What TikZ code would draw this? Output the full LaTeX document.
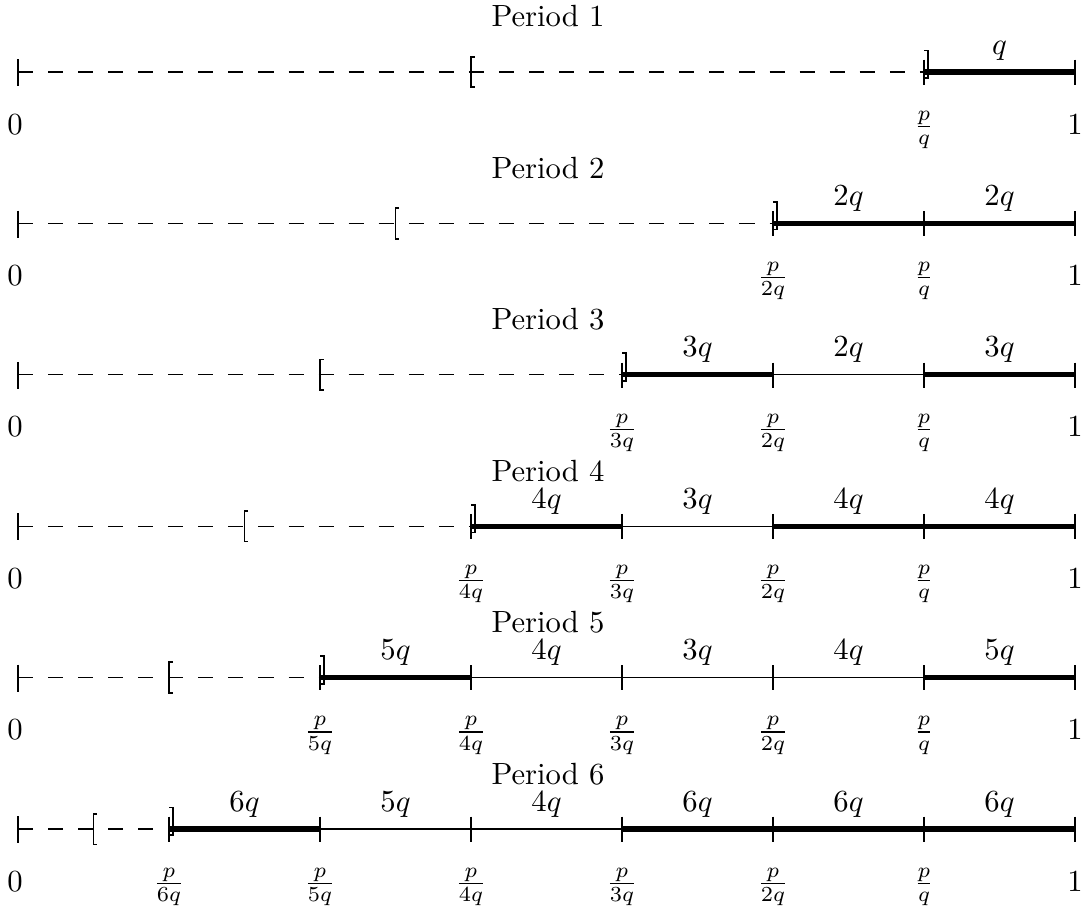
\documentclass[tikz,border=0pt]{standalone}
\usetikzlibrary{calc}
\begin{document}
\begin{tikzpicture}[x=0.326pt,y=-0.326pt,
  tickmark/.style={line width=0.45pt},
  dashline/.style={line width=0.45pt,dash pattern=on 4.9pt off 4.9pt},
  thinseg/.style={line width=0.4pt},
  thickseg/.style={line width=1.7pt},
  brk/.style={line width=0.55pt},
  seglabel/.style={anchor=base,inner sep=0pt},
  axlabel/.style={anchor=base,inner sep=0pt},
  title/.style={anchor=base,inner sep=0pt}]
\useasboundingbox (0,0) rectangle (1089,911);
% row data: n / thick flags for segments (from k=7-n to 7) / labels
\foreach \n/\thk/\labs in {
  1/{1}/{q},
  2/{1,1}/{2q,2q},
  3/{1,0,1}/{3q,2q,3q},
  4/{1,0,1,1}/{4q,3q,4q,4q},
  5/{1,0,0,0,1}/{5q,4q,3q,4q,5q},
  6/{1,0,0,1,1,1}/{6q,5q,4q,6q,6q,6q}}{
  \pgfmathsetmacro{\yy}{72+151.4*(\n-1)}
  \pgfmathtruncatemacro{\ks}{7-\n}
  % named points
  \foreach \k in {0,...,7}{
    \coordinate (r\n p\k) at ({18+151*\k},\yy);
  }
  \coordinate (r\n mid) at ({18+151*\ks/2},\yy);
  \node[title] (title\n) at (548,\yy-45) {Period \n};
  % dashed part
  \draw[dashline] (r\n p0) -- (r\n p\ks);
  % start tick
  \draw[tickmark] ([yshift=4.2pt]r\n p0) -- ([yshift=-4.6pt]r\n p0);
  % [ at mid
  \draw[brk] ([xshift=1.2pt,yshift=5pt]r\n mid) -- ([yshift=5pt]r\n mid) -- ([yshift=-5pt]r\n mid) -- ([xshift=1.2pt,yshift=-5pt]r\n mid);
  % ] at p/(nq)
  \draw[brk] ([xshift=0.1pt,yshift=7pt]r\n p\ks) -- ([xshift=1.2pt,yshift=7pt]r\n p\ks) -- ([xshift=1.2pt,yshift=-2pt]r\n p\ks) -- ([xshift=0.1pt,yshift=-2pt]r\n p\ks);
  % segments
  \foreach \t [count=\i from 0] in \thk {
    \pgfmathtruncatemacro{\a}{\ks+\i}
    \pgfmathtruncatemacro{\b}{\ks+\i+1}
    \ifnum\t=1
      \draw[thickseg] (r\n p\a) -- (r\n p\b);
    \else
      \draw[thinseg] (r\n p\a) -- (r\n p\b);
    \fi
  }
  \foreach \l [count=\i from 0] in \labs {
    \pgfmathtruncatemacro{\a}{\ks+\i}
    \pgfmathtruncatemacro{\b}{\ks+\i+1}
    \node[seglabel] (r\n l\i) at ($(r\n p\a)!0.5!(r\n p\b)+(0,-18)$) {$\l$};
  }
  % ticks at points
  \foreach \k in {\ks,...,7}{
    \draw[tickmark] ([yshift=4pt]r\n p\k) -- ([yshift=-4.2pt]r\n p\k);
  }
  % bottom labels
  \node[axlabel] (r\n zero) at ($(r\n p0)+(-3,62)$) {$0$};
  \node[axlabel] (r\n one) at ($(r\n p7)+(0,62)$) {$1$};
  \foreach \k in {\ks,...,6}{
    \pgfmathtruncatemacro{\m}{7-\k}
    \ifnum\m=1
      \node[axlabel] (r\n f\k) at ($(r\n p\k)+(0,62)$) {$\frac{p}{q}$};
    \else
      \node[axlabel] (r\n f\k) at ($(r\n p\k)+(0,62)$) {$\frac{p}{\m q}$};
    \fi
  }
}
\end{tikzpicture}
\end{document}
